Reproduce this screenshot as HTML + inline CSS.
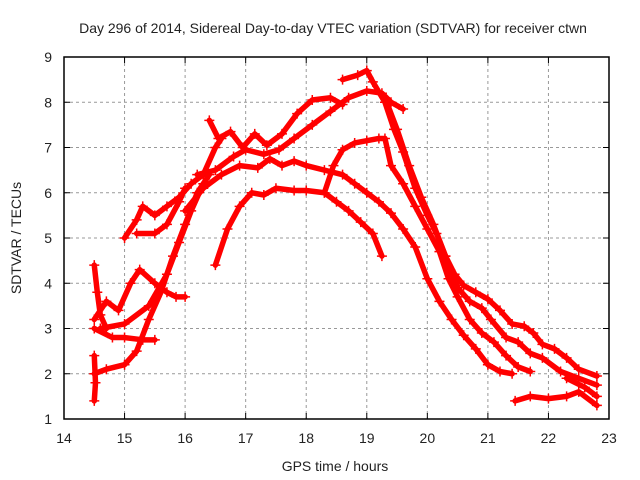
<!DOCTYPE html>
<html><head><meta charset="utf-8">
<style>body{margin:0;background:#fff}svg{display:block;font-family:"Liberation Sans",sans-serif}</style>
</head><body>
<svg id="c" width="640" height="480">
<text x="333" y="33" text-anchor="middle" font-size="14" fill="#222">Day 296 of 2014, Sidereal Day-to-day VTEC variation (SDTVAR) for receiver ctwn</text>
<text x="335" y="471" text-anchor="middle" font-size="14" fill="#222">GPS time / hours</text>
<text transform="translate(21,238) rotate(-90)" text-anchor="middle" font-size="14" fill="#222">SDTVAR / TECUs</text>
<g id="grid"></g><g id="marks"></g><g id="axes"></g>
</svg>
<script>
const xTicks=[14,15,16,17,18,19,20,21,22,23];
const yTicks=[1,2,3,4,5,6,7,8,9];
const s1=[[16.4,7.6],[16.55,7.2],[16.75,7.35],[16.95,7.0],[17.15,7.3],[17.35,7.05],[17.6,7.3],[17.85,7.75],[18.1,8.05],[18.4,8.1],[18.6,7.95]];
const s2=[[18.6,8.5],[18.85,8.6],[19.0,8.7],[19.1,8.45],[19.3,8.0],[19.45,7.4],[19.6,6.9],[19.8,6.1],[20.0,5.5],[20.15,5.1],[20.3,4.6],[20.45,4.2],[20.6,3.95],[20.8,3.8],[21.0,3.65],[21.2,3.4],[21.4,3.1],[21.6,3.05],[21.75,2.9],[21.9,2.65],[22.1,2.55],[22.3,2.35],[22.5,2.1],[22.8,1.95]];
const s3=[[16.2,6.4],[16.5,6.5],[16.8,6.8],[17.0,6.95],[17.3,6.85],[17.55,6.95],[17.8,7.2],[18.1,7.5],[18.4,7.8],[18.7,8.1],[19.0,8.25],[19.25,8.2],[19.4,8.0],[19.6,7.85]];
const s3b=[[19.3,8.1],[19.5,7.4],[19.7,6.6],[19.9,5.9],[20.1,5.3],[20.3,4.6],[20.5,3.9],[20.7,3.6],[20.9,3.45],[21.05,3.2],[21.3,2.8],[21.5,2.7],[21.7,2.45],[21.9,2.35],[22.2,2.05],[22.5,1.9],[22.8,1.75]];
const s4=[[18.3,6.0],[18.45,6.6],[18.6,6.95],[18.8,7.1],[19.0,7.15],[19.2,7.2],[19.3,7.2],[19.4,6.6],[19.6,6.2],[19.8,5.7],[20.0,5.2],[20.2,4.7],[20.35,4.1],[20.5,3.7],[20.7,3.2],[20.9,2.9],[21.1,2.7],[21.3,2.4],[21.5,2.15],[21.7,2.05]];
const s5=[[16.0,5.6],[16.3,6.1],[16.6,6.4],[16.9,6.6],[17.2,6.55],[17.4,6.75],[17.6,6.6],[17.8,6.7],[18.0,6.6],[18.3,6.5],[18.6,6.4],[18.8,6.2],[19.0,6.0],[19.2,5.8],[19.4,5.55],[19.6,5.2],[19.8,4.8],[20.0,4.1],[20.2,3.6],[20.4,3.2],[20.6,2.85],[20.8,2.55],[21.0,2.2],[21.2,2.05],[21.4,2.0]];
const s6=[[16.5,4.4],[16.7,5.2],[16.9,5.7],[17.1,6.0],[17.3,5.95],[17.5,6.1],[17.8,6.05],[18.0,6.05],[18.3,6.0],[18.5,5.8],[18.7,5.6],[18.9,5.35],[19.1,5.1],[19.25,4.6]];
const s7=[[21.45,1.4],[21.7,1.5],[22.0,1.45],[22.3,1.5],[22.5,1.6],[22.8,1.3]];
const s7b=[[22.3,1.9],[22.6,1.7],[22.8,1.5]];
const s8=[[14.5,3.2],[14.7,3.6],[14.9,3.4],[15.1,4.0],[15.25,4.3],[15.5,4.0],[15.7,3.8],[15.85,3.7],[16.0,3.7]];
const s9=[[15.0,5.0],[15.2,5.4],[15.3,5.7],[15.5,5.5],[15.7,5.7],[15.9,5.9],[16.1,6.2],[16.3,6.4],[16.5,7.0],[16.6,7.2]];
const s10=[[15.2,5.1],[15.5,5.1],[15.7,5.3],[15.9,5.8],[16.0,6.1]];
const s11=[[14.5,2.0],[14.7,2.1],[15.0,2.2],[15.2,2.5],[15.4,3.2],[15.6,3.8],[15.8,4.6],[16.0,5.3],[16.2,6.0],[16.4,6.4]];
const s12=[[14.5,3.0],[14.8,2.8],[15.0,2.8],[15.3,2.75],[15.5,2.75]];
const s13=[[14.5,1.4],[14.52,1.8],[14.5,2.4]];
const s14=[[14.6,3.0],[15.0,3.1],[15.4,3.5],[15.7,4.2],[15.9,4.9],[16.1,5.6],[16.3,6.2]];
const s15=[[14.5,4.4],[14.55,3.8],[14.6,3.3],[14.7,3.0]];
const L=64,R=609,T=57,B=419,NS="http://www.w3.org/2000/svg";
const xs=v=>L+(v-14)/9*(R-L), ys=v=>B-(v-1)/8*(B-T);
function mk(t,a,p){const e=document.createElementNS(NS,t);for(const k in a)e.setAttribute(k,a[k]);p.appendChild(e);return e;}
const grid=document.getElementById('grid'),axes=document.getElementById('axes'),marks=document.getElementById('marks');
xTicks.forEach(v=>{const x=xs(v);
 if(v>14&&v<23){const g=mk('line',{x1:x,x2:x,y1:T,y2:B,stroke:'#999','stroke-dasharray':'3,3'},grid);}
 mk('line',{x1:x,x2:x,y1:B,y2:B-6,stroke:'#000'},axes);mk('line',{x1:x,x2:x,y1:T,y2:T+6,stroke:'#000'},axes);
 const t=mk('text',{x:x,y:B+24,'text-anchor':'middle','font-size':14,fill:'#222'},axes);t.textContent=v;
 });
yTicks.forEach(v=>{const y=ys(v);
 if(v>1&&v<9){const g=mk('line',{x1:L,x2:R,y1:y,y2:y,stroke:'#999','stroke-dasharray':'3,3'},grid);}
 mk('line',{x1:L,x2:L+6,y1:y,y2:y,stroke:'#000'},axes);mk('line',{x1:R,x2:R-6,y1:y,y2:y,stroke:'#000'},axes);
 const t=mk('text',{x:L-12,y:y+5,'text-anchor':'end','font-size':14,fill:'#222'},axes);t.textContent=v;
 });
const fr=mk('rect',{x:L,y:T,width:R-L,height:B-T,fill:'none',stroke:'#000','stroke-width':1.5},axes);

[s1,s2,s3,s3b,s4,s5,s6,s7,s7b,s8,s9,s10,s11,s12,s13,s14,s15].forEach((s,i)=>{
 const g=mk('g',{},marks);
 
 
 mk('polyline',{points:s.map(p=>xs(p[0])+','+ys(p[1])).join(' '),fill:'none',stroke:'#f00','stroke-width':5.5,'stroke-linejoin':'round','stroke-linecap':'round'},g);
 s.forEach(p=>{const x=xs(p[0]),y=ys(p[1]);
  const m=mk('path',{d:`M${x-5},${y}h10M${x},${y-5}v10`,stroke:'#f00','stroke-width':1.5},g);
  
  });
});
</script>
</body></html>
